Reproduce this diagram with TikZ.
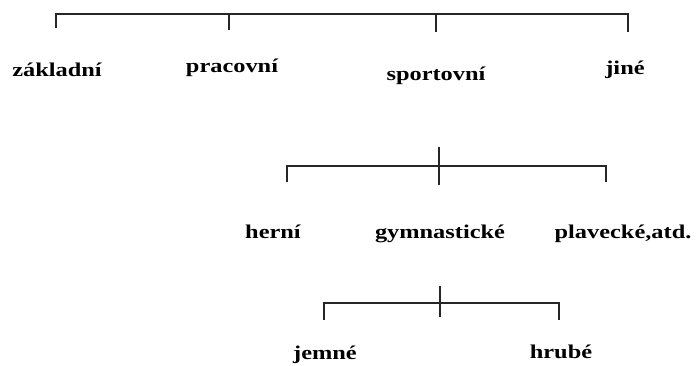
\documentclass[tikz,border=0pt]{standalone}
\usepackage{fontspec}
\newfontfamily\lblfont[FakeStretch=1.25]{Liberation Serif}
\begin{document}
\begin{tikzpicture}[x=1pt,y=-1pt,
  lbl/.style={anchor=base,inner sep=0pt,font=\lblfont\bfseries\fontsize{19.5}{22}\selectfont},
  br/.style={draw=black!85,line width=1.3pt}]
\useasboundingbox (0,0) rectangle (700,365);
% level 1
\node[lbl] (zakladni) at (57,76) {základní};
\node[lbl] (pracovni) at (232,72.5) {pracovní};
\node[lbl] (sportovni) at (436,80) {sportovní};
\node[lbl] (jine) at (625,74) {jiné};
\coordinate (t1) at (56,28);
\coordinate (t2) at (229,30);
\coordinate (t3) at (436,32);
\coordinate (t4) at (628,32);
\draw[br] (t1) |- (t4 |- 0,14) -- (t4);
\draw[br] (t2) -- (t2 |- 0,14);
\draw[br] (t3) -- (t3 |- 0,14);
% level 2
\node[lbl] (herni) at (273,238) {herní};
\node[lbl] (gym) at (440,238) {gymnastické};
\node[lbl] (plav) at (623,238) {plavecké,atd.};
\coordinate (u1) at (287,182);
\coordinate (u2) at (439,147);
\coordinate (u3) at (606,182);
\coordinate (u2b) at (439,185);
\draw[br] (u1) |- (u3 |- 0,166) -- (u3);
\draw[br] (u2) -- (u2b);
% level 3
\node[lbl] (jemne) at (325,359) {jemné};
\node[lbl] (hrube) at (561,358) {hrubé};
\coordinate (v1) at (324,320);
\coordinate (v2) at (440,286);
\coordinate (v3) at (559,320);
\coordinate (v2b) at (440,317);
\draw[br] (v1) |- (v3 |- 0,303) -- (v3);
\draw[br] (v2) -- (v2b);
\end{tikzpicture}
\end{document}
